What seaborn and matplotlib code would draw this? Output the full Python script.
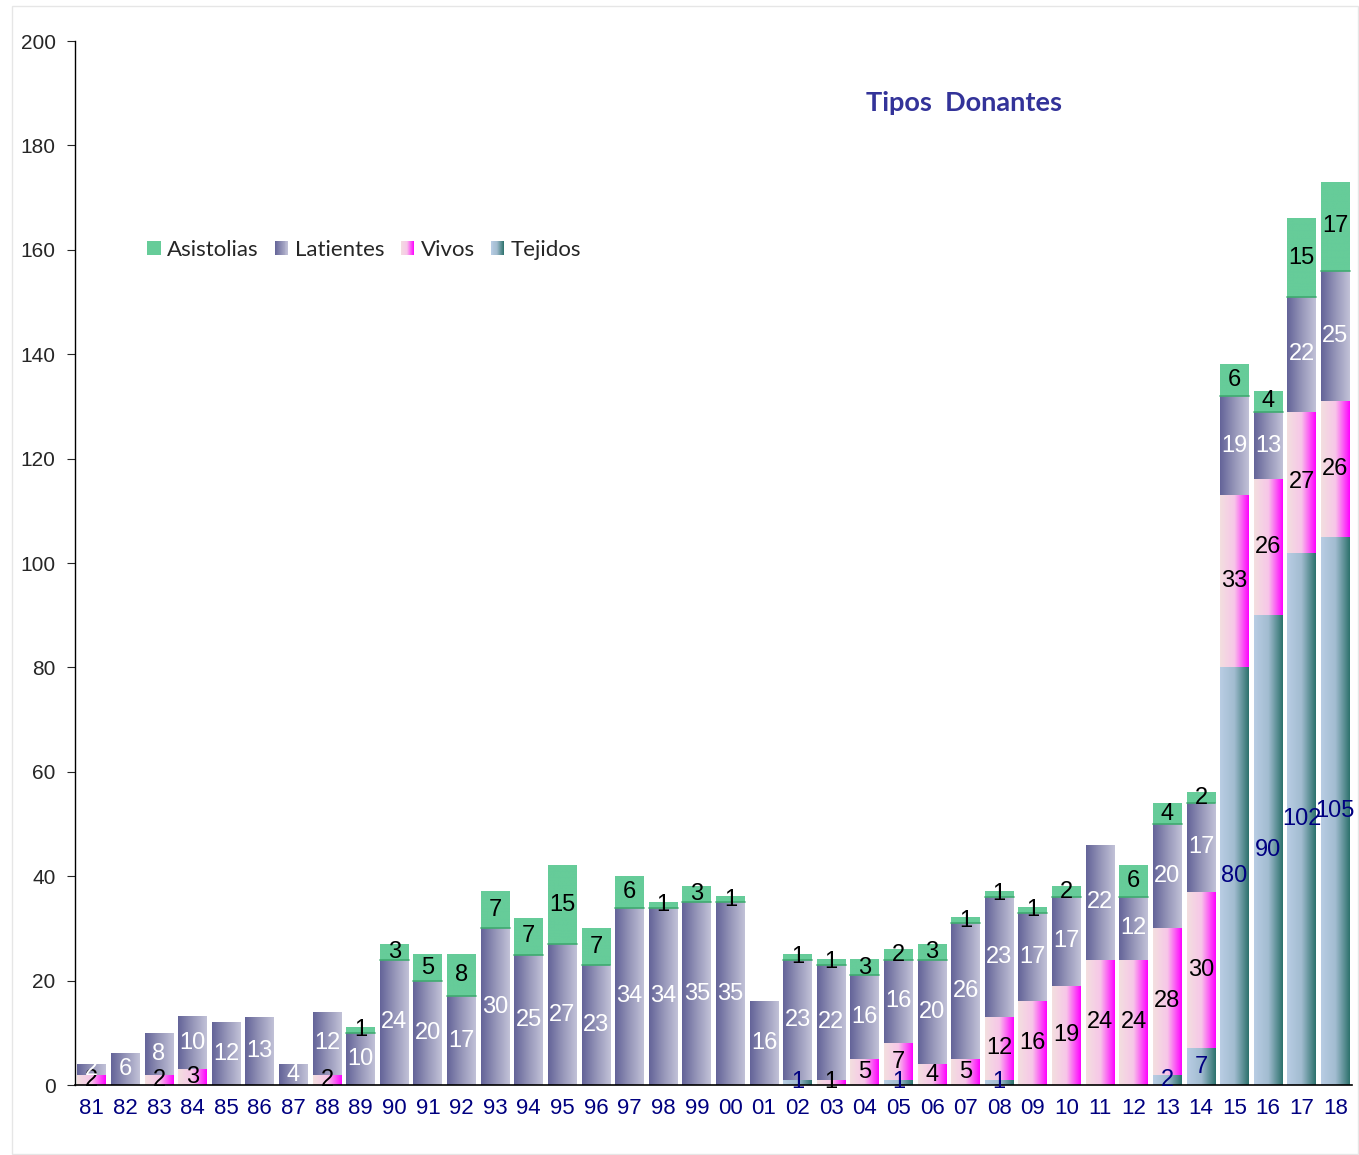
import numpy as np
import pandas as pd
import matplotlib.pyplot as plt
import seaborn as sns
from matplotlib.colors import LinearSegmentedColormap
from matplotlib.legend_handler import HandlerBase
from matplotlib.patches import Rectangle

years = ['81', '82', '83', '84', '85', '86', '87', '88', '89', '90',
         '91', '92', '93', '94', '95', '96', '97', '98', '99', '00',
         '01', '02', '03', '04', '05', '06', '07', '08', '09', '10',
         '11', '12', '13', '14', '15', '16', '17', '18']
tejidos = [0, 0, 0, 0, 0, 0, 0, 0, 0, 0,
           0, 0, 0, 0, 0, 0, 0, 0, 0, 0,
           0, 1, 0, 0, 1, 0, 0, 1, 0, 0,
           0, 0, 2, 7, 80, 90, 102, 105]
vivos = [2, 0, 2, 3, 0, 0, 0, 2, 0, 0,
         0, 0, 0, 0, 0, 0, 0, 0, 0, 0,
         0, 0, 1, 5, 7, 4, 5, 12, 16, 19,
         24, 24, 28, 30, 33, 26, 27, 26]
latientes = [2, 6, 8, 10, 12, 13, 4, 12, 10, 24,
             20, 17, 30, 25, 27, 23, 34, 34, 35, 35,
             16, 23, 22, 16, 16, 20, 26, 23, 17, 17,
             22, 12, 20, 17, 19, 13, 22, 25]
asistolias = [0, 0, 0, 0, 0, 0, 0, 0, 1, 3,
              5, 8, 7, 7, 15, 7, 6, 1, 3, 1,
              0, 1, 1, 3, 2, 3, 1, 1, 1, 2,
              0, 6, 4, 2, 6, 4, 15, 17]

df = pd.DataFrame({'year': years, 'Tejidos': tejidos, 'Vivos': vivos,
                   'Latientes': latientes, 'Asistolias': asistolias})

# gradient fills, left to right like the original
cmaps = {
    'Tejidos': LinearSegmentedColormap.from_list('tej', ['#b9cde4', '#a2bcd0', '#2c716b']),
    'Vivos': LinearSegmentedColormap.from_list('viv', ['#f3dfdf', '#f7c6e8', '#ff00ff']),
    'Latientes': LinearSegmentedColormap.from_list('lat', ['#636398', '#9595b8', '#c2c2d8']),
    'Asistolias': LinearSegmentedColormap.from_list('asi', ['#66cc99', '#66cc99']),
}
label_colors = {'Tejidos': '#000080', 'Vivos': 'black', 'Latientes': 'white', 'Asistolias': 'black'}

sns.set_style("white")
plt.rcParams['font.family'] = ['Liberation Sans', 'DejaVu Sans']

fig = plt.figure(figsize=(13.59, 11.55), dpi=100)
ax = fig.add_axes([0.0552, 0.0606, 0.9398, 0.9039])

series = ['Tejidos', 'Vivos', 'Latientes', 'Asistolias']
bottom = np.zeros(len(years))
for name in series:
    vals = df[name].to_numpy()
    sns.barplot(x='year', y=name, data=df, order=years, color=cmaps[name](0.5),
                bottom=bottom, width=0.86, ax=ax, errorbar=None, linewidth=0)
    cont = ax.containers[-1]
    for i, rect in enumerate(cont):
        h = rect.get_height()
        if h <= 0:
            continue
        x0 = rect.get_x()
        w = rect.get_width()
        y0 = rect.get_y()
        grad = np.linspace(0, 1, 256).reshape(1, -1)
        ax.imshow(grad, cmap=cmaps[name], extent=[x0, x0 + w, y0, y0 + h],
                  aspect='auto', interpolation='bilinear', zorder=2)
        ax.text(i, y0 + h / 2, str(vals[i]), ha='center', va='center',
                fontsize=17, color=label_colors[name], zorder=4)
        rect.set_facecolor('none')
    bottom = bottom + vals

# thin darker line under the green segments
for i, v in enumerate(asistolias):
    if v > 0:
        b = tejidos[i] + vivos[i] + latientes[i]
        ax.plot([i - 0.43, i + 0.43], [b, b], color='#3faa70', lw=1.2, zorder=3)

ax.set_xlim(-0.5, len(years) - 0.5)
ax.set_ylim(0, 200)
ax.set_yticks(range(0, 201, 20))
ax.set_xticks(range(len(years)))
ax.set_xticklabels(years)
ax.set_xticks(np.arange(-0.5, len(years), 1), minor=True)
ax.tick_params(axis='x', which='major', length=0, labelsize=16, labelcolor='#000080', pad=9)
ax.tick_params(axis='x', which='minor', length=7, color='#555555', width=1.2, direction='out')
ax.tick_params(axis='y', length=6, labelsize=15, left=True, direction='out', pad=8)
ax.set_xlabel('')
ax.set_ylabel('')
for s in ['top', 'right']:
    ax.spines[s].set_visible(False)
ax.spines['left'].set_color('black')
ax.spines['bottom'].set_color('black')
ax.spines['left'].set_linewidth(1)
ax.spines['bottom'].set_linewidth(1.2)


class GradHandler(HandlerBase):
    def __init__(self, cmap):
        super().__init__()
        self.cmap = cmap

    def create_artists(self, legend, orig_handle, xdescent, ydescent, width, height, fontsize, trans):
        n = 14
        arts = []
        for k in range(n):
            arts.append(Rectangle((-xdescent + width * k / n, -ydescent), width / n, height,
                                  facecolor=self.cmap((k + 0.5) / n), edgecolor='none',
                                  transform=trans))
        return arts


leg_order = ['Asistolias', 'Latientes', 'Vivos', 'Tejidos']
handles = [Rectangle((0, 0), 1, 1) for _ in leg_order]
hmap = {h: GradHandler(cmaps[n]) for h, n in zip(handles, leg_order)}
ax.legend(handles, leg_order, handler_map=hmap, loc='center left',
          bbox_to_anchor=(0.041, 0.80), ncol=4, frameon=False,
          prop={'family': 'Lato', 'size': 16}, handlelength=0.6, handleheight=0.6,
          handletextpad=0.3, columnspacing=0.72)

fig.text(0.709, 0.911, 'Tipos  Donantes', ha='center', va='center', fontsize=19.5,
         fontweight='bold', color='#333399', family='Lato')

fig.patches.append(Rectangle((0.009, 0.001), 0.99, 0.994, transform=fig.transFigure,
                             fill=False, edgecolor='#e6e6e6', linewidth=1))

fig.savefig('out.png', dpi=100)
